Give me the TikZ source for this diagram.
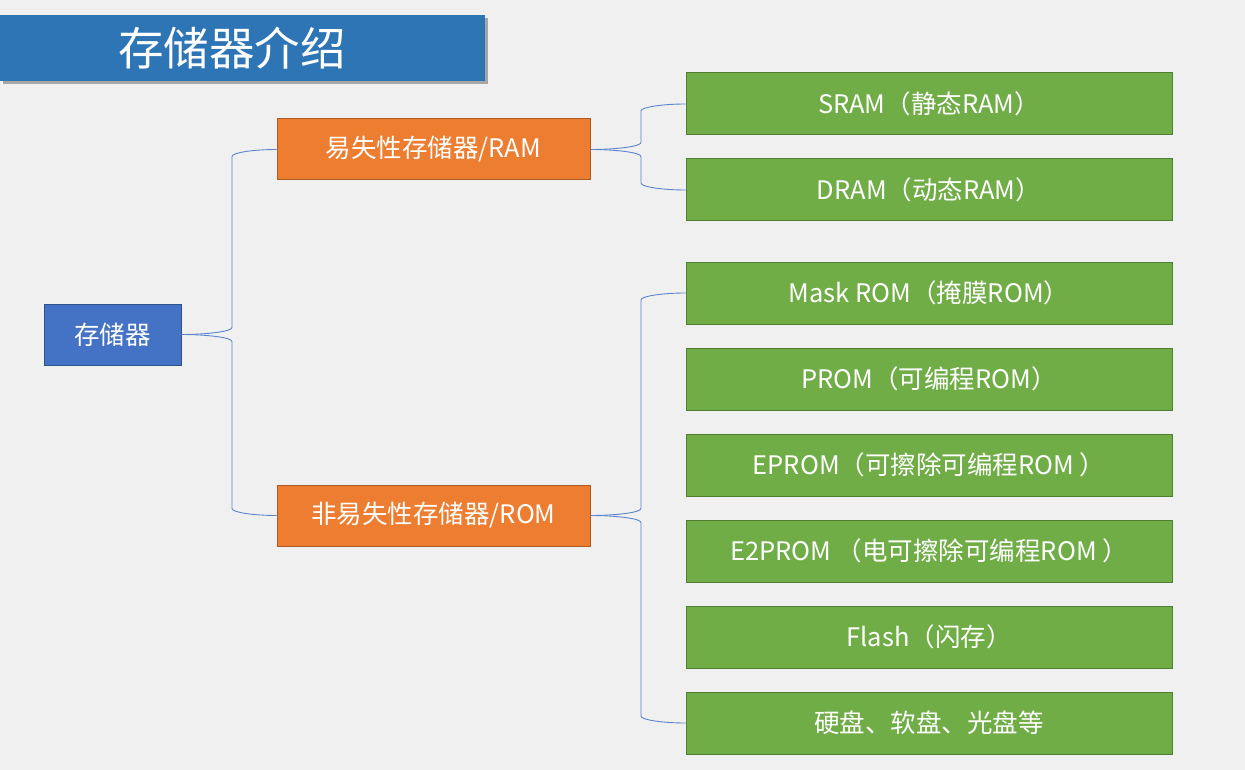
\documentclass[tikz,border=0pt]{standalone}
\usepackage{fontspec}
\setmainfont{Noto Sans CJK SC}
\usetikzlibrary{calc}
\definecolor{bg}{HTML}{F0F0F0}
\definecolor{titleblue}{HTML}{2E75B6}
\definecolor{rootblue}{HTML}{4472C4}
\definecolor{rootborder}{HTML}{2F528F}
\definecolor{orangefill}{HTML}{ED7D31}
\definecolor{orangeborder}{HTML}{AE5A21}
\definecolor{greenfill}{HTML}{70AD47}
\definecolor{greenborder}{HTML}{507E32}
\definecolor{lineblue}{HTML}{5B84CC}
\tikzset{
  box/.style={rectangle, inner sep=0pt, line width=1pt, text=white, font=\fontsize{25.5}{30}\selectfont},
  rootbox/.style={box, fill=rootblue, draw=rootborder, minimum width=137pt, minimum height=61pt},
  midbox/.style={box, fill=orangefill, draw=orangeborder, minimum width=313pt, minimum height=61pt},
  leafbox/.style={box, fill=greenfill, draw=greenborder, minimum width=486pt, minimum height=62pt},
  conn/.style={draw=lineblue, line width=0.9pt, to path={
    let \p1=(\tikztostart), \p2=(\tikztotarget),
        \n1={0.5*(\x1+\x2)+3pt}, \n2={ifthenelse(\y2>\y1,1,-1)} in
    .. controls ({\x1+0.5*(\n1-\x1)},\y1) and (\n1,{\y1+\n2*3pt}) .. (\n1,{\y1+\n2*7pt})
    -- (\n1,{\y2-\n2*7pt})
    .. controls (\n1,{\y2-\n2*3pt}) and ({\n1+0.5*(\x2-\n1)},\y2) .. (\tikztotarget)}}
}
\begin{document}
\begin{tikzpicture}[x=1pt,y=-1pt]
\fill[bg] (0,0) rectangle (1245,770);
\useasboundingbox (0,0) rectangle (1245,770);
% title
\fill[black!35] (3,18) rectangle (488,84);
\node[rectangle, fill=titleblue, minimum width=485pt, minimum height=66pt, inner sep=0pt] (title) at (242.5,48) {};
\node[text=white, font=\fontsize{45.5}{52}\selectfont, inner sep=0pt] (titletext) at (232,48) {存储器介绍};
% nodes
\node[rootbox] (root) at (112.5,334.5) {存储器};
\node[midbox] (ram) at (433.5,149.5) {易失性存储器/RAM};
\node[midbox] (rom) at (433.5,515.5) {非易失性存储器/ROM};
\node[leafbox] (sram) at (929,104) {SRAM（静态RAM）};
\node[leafbox] (dram) at (929,190) {DRAM（动态RAM）};
\node[leafbox] (mask) at (929,293) {Mask ROM（掩膜ROM）};
\node[leafbox] (prom) at (929,379) {PROM（可编程ROM）};
\node[leafbox] (eprom) at (929,465) {EPROM（可擦除可编程ROM ）};
\node[leafbox] (eeprom) at (929,551) {E2PROM （电可擦除可编程ROM ）};
\node[leafbox] (flash) at (929,637) {Flash（闪存）};
\node[leafbox] (disk) at (929,723) {硬盘、软盘、光盘等};
% connectors
\draw[conn] (root.east) to (ram.west);
\draw[conn] (root.east) to (rom.west);
\draw[conn] (ram.east) to (sram.west);
\draw[conn] (ram.east) to (dram.west);
\draw[conn] (rom.east) to (mask.west);
\draw[conn] (rom.east) to (disk.west);
\end{tikzpicture}
\end{document}
